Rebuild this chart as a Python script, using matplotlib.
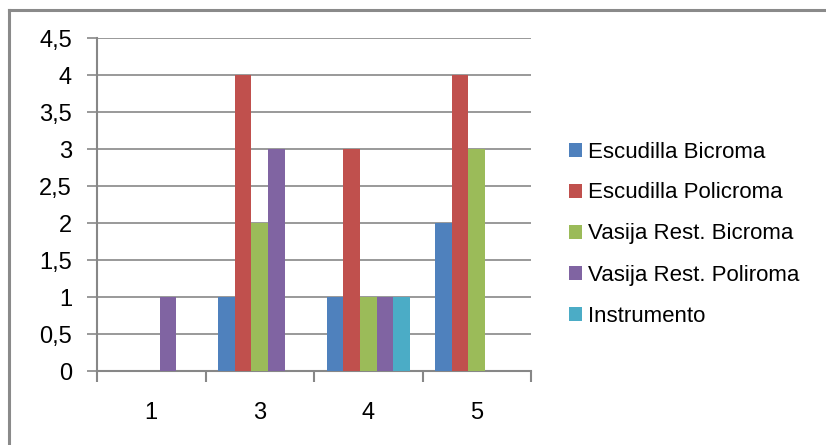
import matplotlib
matplotlib.use("Agg")
import matplotlib.pyplot as plt
from matplotlib.lines import Line2D
from matplotlib.ticker import MultipleLocator, FuncFormatter
import numpy as np

categories = ["1", "3", "4", "5"]
series_names = ["Escudilla Bicroma", "Escudilla Policroma", "Vasija Rest. Bicroma",
                "Vasija Rest. Poliroma", "Instrumento"]
escudilla_bicroma = [0, 1, 1, 2]
escudilla_policroma = [0, 4, 3, 4]
vasija_bicroma = [0, 2, 1, 3]
vasija_poliroma = [1, 3, 1, 0]
instrumento = [0, 0, 1, 0]
colors = ["#4F81BD", "#C0504D", "#9BBB59", "#8064A2", "#4BACC6"]

values = [escudilla_bicroma, escudilla_policroma, vasija_bicroma, vasija_poliroma, instrumento]

plt.rcParams["font.family"] = ["Liberation Sans", "DejaVu Sans"]
W, H = 826, 445
fig = plt.figure(figsize=(W / 100, H / 100), dpi=100)
ax = fig.add_axes([97 / W, (H - 371) / H, (531 - 97) / W, (371 - 38) / H])

n = len(values)
bw = 1 / (n + 1.5)
x = np.arange(len(categories))
for i, (vals, name, c) in enumerate(zip(values, series_names, colors)):
    ax.bar(x + (i - (n - 1) / 2) * bw, vals, width=bw, color=c, label=name, zorder=3)

ax.set_xlim(-0.5, len(categories) - 0.5)
ax.set_ylim(0, 4.5)
ax.yaxis.set_major_locator(MultipleLocator(0.5))
ax.yaxis.set_major_formatter(FuncFormatter(lambda v, p: f"{v:g}".replace(".", ",")))
ax.set_xticks(x)
ax.set_xticklabels(categories)
ax.set_xticks(np.arange(len(categories) + 1) - 0.5, minor=True)

grid_c = "#878787"
ax.grid(axis="y", color=grid_c, linewidth=1.2, zorder=0)
for s in ["top", "right"]:
    ax.spines[s].set_visible(False)
for s in ["left", "bottom"]:
    ax.spines[s].set_color(grid_c)
    ax.spines[s].set_linewidth(1.5)

ax.tick_params(axis="y", which="major", length=7, width=1.2, color=grid_c,
               labelsize=17, pad=11)
ax.tick_params(axis="x", which="major", length=0, labelsize=17, pad=22)
ax.tick_params(axis="x", which="minor", length=8, width=1.5, color=grid_c)

fig.legend(loc="center left", bbox_to_anchor=(569 / W, 1 - 234 / H), frameon=False,
           fontsize=16, handlelength=0.6, handleheight=0.6, handletextpad=0.25,
           labelspacing=0.9, borderpad=0, borderaxespad=0)

# outer chart-area border (top and left edges)
fig.add_artist(Line2D([9 / W, 1], [1 - 10 / H, 1 - 10 / H], transform=fig.transFigure,
                      color="#8a8a8a", linewidth=2.2))
fig.add_artist(Line2D([9 / W, 9 / W], [0, 1 - 10 / H], transform=fig.transFigure,
                      color="#8a8a8a", linewidth=2.2))

fig.savefig("out.png", dpi=100)
